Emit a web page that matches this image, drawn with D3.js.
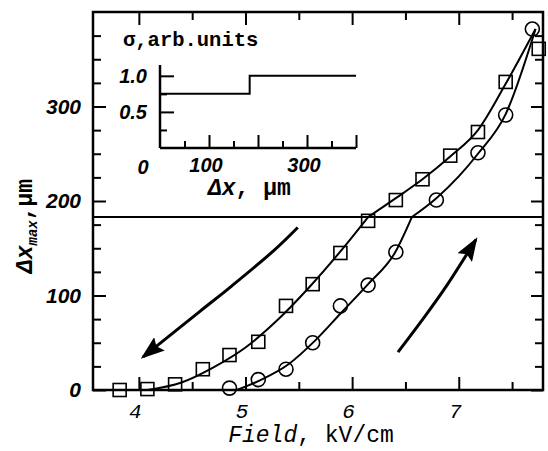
<!DOCTYPE html>
<html><head><meta charset="utf-8">
<script src="https://cdn.jsdelivr.net/npm/d3@7"></script>
<style>body{margin:0;background:#fff}svg{display:block}</style>
</head><body>
<svg id="c" width="548" height="451"></svg>
<script>
// ---- data ----
const xTicks = [4, 5, 6, 7];
const xMinorTicks = [4.5, 5.5, 6.5, 7.5];
const yTicks = [0, 100, 200, 300];
const yMinorTicks = [25, 50, 75, 125, 150, 175, 225, 250, 275, 325, 350, 375];

// squares: decreasing field
const decField = [3.82, 4.08, 4.34, 4.60, 4.85, 5.12, 5.38, 5.63, 5.89, 6.15, 6.41, 6.66, 6.92, 7.18, 7.44, 7.75];
const decDx    = [0,    1,    6,    22,   37,   51,   89,   112,  145,  179,  201,  223,  248,  273,  326,  361];
// circles: increasing field
const incField = [4.85, 5.12, 5.38, 5.63, 5.89, 6.15, 6.41, 6.79, 7.18, 7.44, 7.69];
const incDx    = [2,    11,   22,   50,   89,   111,  146,  201,  251,  291,  382];

// fitted curves (two branches each, kink at the threshold line)
const decCurveLowF  = [4.08, 4.40, 4.70, 5.00, 5.30, 5.60, 5.90, 6.15];
const decCurveLowV  = [0,    8,    24,   45,   74,   109,  148,  183];
const decCurveHighF = [6.15, 6.41, 6.66, 6.92, 7.18, 7.44, 7.72];
const decCurveHighV = [183,  203,  223,  247,  275,  324,  382];
const incCurveLowF  = [4.92, 5.15, 5.40, 5.65, 5.90, 6.15, 6.40, 6.56];
const incCurveLowV  = [0,    11,   27,   52,   82,   112,  145,  183];
const incCurveHighF = [6.56, 6.79, 7.00, 7.18, 7.44, 7.72];
const incCurveHighV = [183,  203,  226,  250,  292,  382];

const thresholdDx = 183;

// direction arrows
const decArrowF = [5.49, 5.27, 4.87, 4.57, 4.04];
const decArrowV = [172,  148,  110,  83,   35];
const incArrowF = [6.43, 6.67, 6.89, 7.16];
const incArrowV = [40,   76,   111,  159];

// inset
const insetXTicksMajor = [100, 200, 300, 400];
const insetXTicksMinor = [50, 150, 250, 350];
const insetXLabels = [100, 300];
const insetYTicksMajor = [0.5, 1.0];
const insetYTicksMinor = [0.25, 0.75];
const stepDx = [0, 183, 400];
const stepSigma = [0.75, 1.0, 1.0];

// ---- drawing ----
const svg = d3.select("#c");
const x = d3.scaleLinear().domain([3.57, 7.79]).range([93, 543]);
const y = d3.scaleLinear().domain([0, 400]).range([390, 12]);
const zip = (a, b) => a.map((v, i) => [v, b[i]]);

const defs = svg.append("defs");
defs.append("marker").attr("id", "ah").attr("viewBox", "0 0 24 17")
  .attr("refX", 21).attr("refY", 8.5).attr("markerWidth", 24).attr("markerHeight", 17)
  .attr("markerUnits", "userSpaceOnUse").attr("orient", "auto")
  .append("path").attr("d", "M0,0 L24,8.5 L0,17 L4,8.5 Z").attr("fill", "#000");

const tickFont = "'Liberation Sans', Arial, sans-serif";
const monoFont = "'Liberation Mono', 'Courier New', monospace";

function styleAxis(g) {
  g.select(".domain").remove();
  g.selectAll(".tick line").attr("stroke", "#000").attr("stroke-width", 2);
}

// frame
svg.append("rect").attr("x", x.range()[0]).attr("y", y.range()[1])
  .attr("width", x.range()[1] - x.range()[0]).attr("height", y.range()[0] - y.range()[1])
  .attr("fill", "none").attr("stroke", "#000").attr("stroke-width", 2.5);

// left axis
svg.append("g").attr("transform", `translate(${x.range()[0]},0)`)
  .call(d3.axisLeft(y).tickValues(yTicks).tickSizeInner(-13).tickSizeOuter(0).tickPadding(12).tickFormat(d3.format("d")))
  .call(styleAxis)
  .call(g => g.selectAll("text").attr("font-family", tickFont).attr("font-style", "italic")
    .attr("font-weight", "bold").attr("font-size", 21).attr("fill", "#000"));
svg.append("g").attr("transform", `translate(${x.range()[0]},0)`)
  .call(d3.axisLeft(y).tickValues(yMinorTicks).tickSizeInner(-8).tickSizeOuter(0).tickFormat(""))
  .call(styleAxis);
// right axis
svg.append("g").attr("transform", `translate(${x.range()[1]},0)`)
  .call(d3.axisRight(y).tickValues(yTicks).tickSizeInner(-12).tickSizeOuter(0).tickFormat(""))
  .call(styleAxis);
svg.append("g").attr("transform", `translate(${x.range()[1]},0)`)
  .call(d3.axisRight(y).tickValues(yMinorTicks).tickSizeInner(-8).tickSizeOuter(0).tickFormat(""))
  .call(styleAxis);
// bottom axis
svg.append("g").attr("transform", `translate(0,${y.range()[0]})`)
  .call(d3.axisBottom(x).tickValues(xTicks).tickSizeInner(-13).tickSizeOuter(0).tickPadding(13).tickFormat(d3.format("d")))
  .call(styleAxis)
  .call(g => g.selectAll("text").attr("font-family", monoFont).attr("font-style", "italic")
    .attr("font-size", 21).attr("fill", "#000").attr("dx", -4));
svg.append("g").attr("transform", `translate(0,${y.range()[0]})`)
  .call(d3.axisBottom(x).tickValues(xMinorTicks).tickSizeInner(-8).tickSizeOuter(0).tickFormat(""))
  .call(styleAxis);
// top axis
svg.append("g").attr("transform", `translate(0,${y.range()[1]})`)
  .call(d3.axisTop(x).tickValues(xTicks).tickSizeInner(-13).tickSizeOuter(0).tickFormat(""))
  .call(styleAxis);
svg.append("g").attr("transform", `translate(0,${y.range()[1]})`)
  .call(d3.axisTop(x).tickValues(xMinorTicks).tickSizeInner(-8).tickSizeOuter(0).tickFormat(""))
  .call(styleAxis);

// threshold line
svg.append("line").attr("x1", x.range()[0]).attr("x2", x.range()[1])
  .attr("y1", y(thresholdDx)).attr("y2", y(thresholdDx))
  .attr("stroke", "#000").attr("stroke-width", 2);

// curves
const line = d3.line().x(d => x(d[0])).y(d => y(d[1])).curve(d3.curveMonotoneX);
[[decCurveLowF, decCurveLowV], [decCurveHighF, decCurveHighV],
 [incCurveLowF, incCurveLowV], [incCurveHighF, incCurveHighV]].forEach(([f, v]) => {
  svg.append("path").attr("d", line(zip(f, v))).attr("fill", "none")
    .attr("stroke", "#000").attr("stroke-width", 2);
});

// arrows
const arrowLine = d3.line().x(d => x(d[0])).y(d => y(d[1])).curve(d3.curveCatmullRom);
svg.append("path").attr("d", arrowLine(zip(decArrowF, decArrowV))).attr("fill", "none")
  .attr("stroke", "#000").attr("stroke-width", 3).attr("marker-end", "url(#ah)");
svg.append("path").attr("d", arrowLine(zip(incArrowF, incArrowV))).attr("fill", "none")
  .attr("stroke", "#000").attr("stroke-width", 3).attr("marker-end", "url(#ah)");

// markers
const sq = 13;
svg.append("g").selectAll("rect").data(zip(decField, decDx)).join("rect")
  .attr("x", d => x(d[0]) - sq / 2).attr("y", d => y(d[1]) - sq / 2)
  .attr("width", sq).attr("height", sq)
  .attr("fill", "none").attr("stroke", "#000").attr("stroke-width", 1.6);
svg.append("g").selectAll("circle").data(zip(incField, incDx)).join("circle")
  .attr("cx", d => x(d[0])).attr("cy", d => y(d[1])).attr("r", 7)
  .attr("fill", "none").attr("stroke", "#000").attr("stroke-width", 1.6);

// axis titles
svg.append("text").attr("x", 311).attr("y", 442).attr("text-anchor", "middle")
  .attr("font-family", monoFont).attr("font-size", 23).attr("fill", "#000")
  .call(t => { t.append("tspan").attr("font-style", "italic").text("Field");
               t.append("tspan").text(", kV/cm"); });

const yl = svg.append("text").attr("transform", "translate(32,226) rotate(-90)")
  .attr("text-anchor", "middle").attr("font-family", monoFont).attr("font-weight", "bold")
  .attr("font-size", 23).attr("fill", "#000");
yl.append("tspan").attr("font-style", "italic").text("Δx");
yl.append("tspan").attr("font-size", 14).attr("font-style", "italic").attr("dy", 5).text("max");
yl.append("tspan").attr("dy", -5).text(",µm");

// ---- inset ----
const ix = d3.scaleLinear().domain([0, 400]).range([160, 356]);
const iy = d3.scaleLinear().domain([0, 1.15]).range([148, 65]);
svg.append("line").attr("x1", ix(0)).attr("x2", ix(0)).attr("y1", iy(0)).attr("y2", iy(1.15))
  .attr("stroke", "#000").attr("stroke-width", 2.5);
svg.append("line").attr("x1", ix(0)).attr("x2", ix(400)).attr("y1", iy(0)).attr("y2", iy(0))
  .attr("stroke", "#000").attr("stroke-width", 2.5);
svg.append("g").attr("transform", `translate(${ix(0)},0)`)
  .call(d3.axisLeft(iy).tickValues(insetYTicksMajor).tickSizeInner(-14).tickSizeOuter(0).tickPadding(13).tickFormat(d3.format(".1f")))
  .call(styleAxis)
  .call(g => g.selectAll("text").attr("font-family", tickFont).attr("font-style", "italic")
    .attr("font-weight", "bold").attr("font-size", 20).attr("fill", "#000"));
svg.append("g").attr("transform", `translate(${ix(0)},0)`)
  .call(d3.axisLeft(iy).tickValues(insetYTicksMinor).tickSizeInner(-7).tickSizeOuter(0).tickFormat(""))
  .call(styleAxis);
svg.append("g").attr("transform", `translate(0,${iy(0)})`)
  .call(d3.axisBottom(ix).tickValues(insetXTicksMajor).tickSizeInner(-13).tickSizeOuter(0).tickFormat(""))
  .call(styleAxis);
svg.append("g").attr("transform", `translate(0,${iy(0)})`)
  .call(d3.axisBottom(ix).tickValues(insetXTicksMinor).tickSizeInner(-7).tickSizeOuter(0).tickFormat(""))
  .call(styleAxis);
svg.append("g").selectAll("text").data(insetXLabels).join("text")
  .attr("x", d => ix(d) - 3).attr("y", iy(0) + 24).attr("text-anchor", "middle")
  .attr("font-family", tickFont).attr("font-style", "italic").attr("font-weight", "bold")
  .attr("font-size", 20).attr("fill", "#000").text(d => d);
svg.append("text").attr("x", ix(0) - 17).attr("y", iy(0) + 26).attr("text-anchor", "middle")
  .attr("font-family", tickFont).attr("font-style", "italic").attr("font-weight", "bold")
  .attr("font-size", 20).attr("fill", "#000").text("0");

svg.append("path").attr("d", d3.line().x(d => ix(d[0])).y(d => iy(d[1])).curve(d3.curveStepAfter)(zip(stepDx, stepSigma)))
  .attr("fill", "none").attr("stroke", "#000").attr("stroke-width", 2);

svg.append("text").attr("x", 123).attr("y", 46)
  .attr("font-family", monoFont).attr("font-weight", "bold").attr("font-size", 20.5).attr("fill", "#000")
  .text("σ,arb.units");
const il = svg.append("text").attr("x", 208).attr("y", 195)
  .attr("font-family", monoFont).attr("font-weight", "bold").attr("font-size", 23).attr("fill", "#000");
il.append("tspan").attr("font-style", "italic").text("Δx");
il.append("tspan").text(", µm");
</script>
</body></html>
